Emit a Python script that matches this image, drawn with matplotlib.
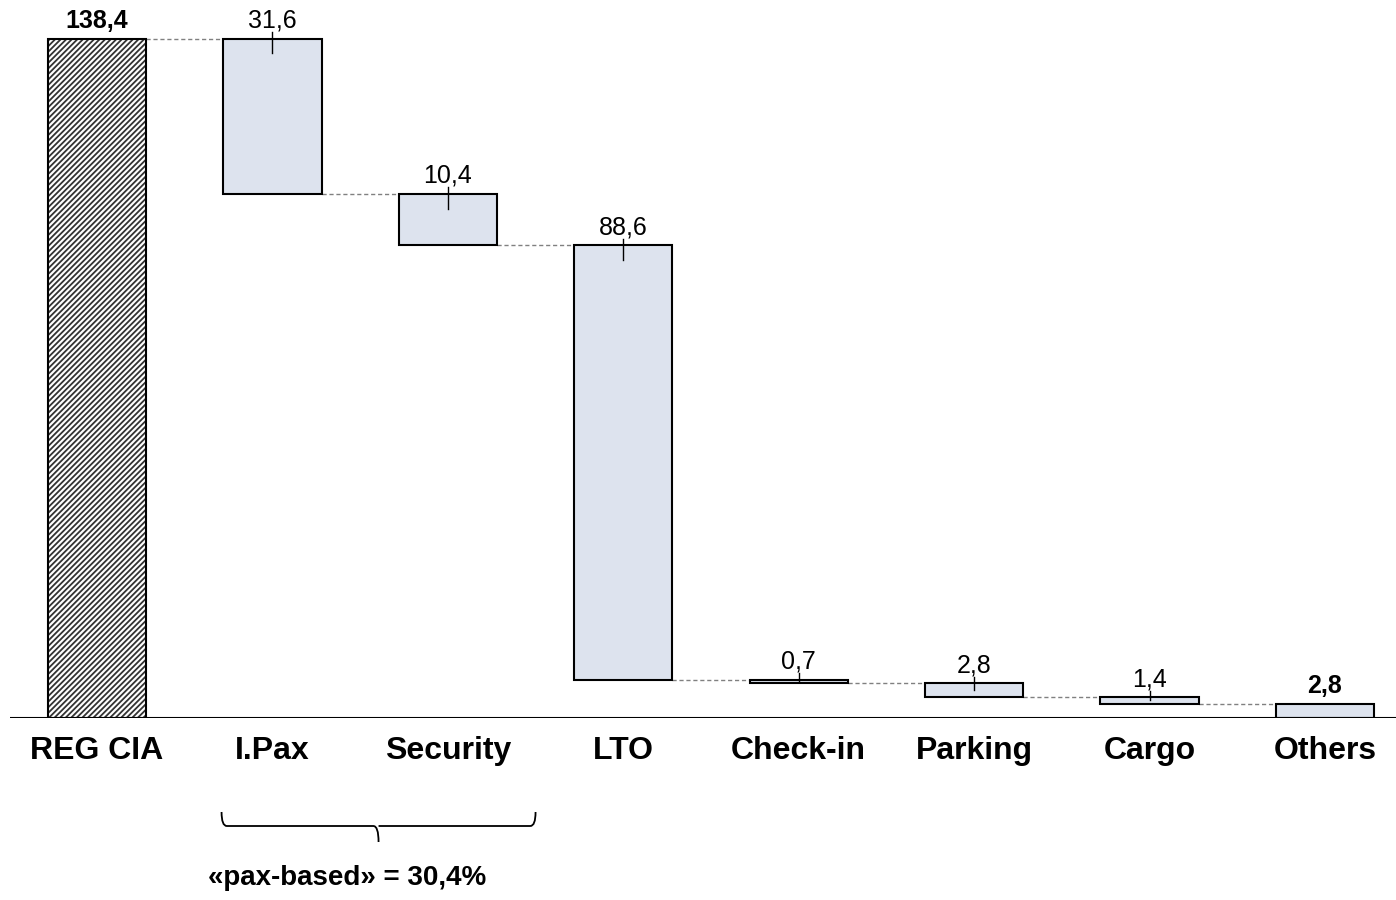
import numpy as np
import matplotlib.pyplot as plt
from matplotlib.path import Path
from matplotlib.patches import PathPatch
import matplotlib.transforms as mtransforms

plt.rcParams['font.family'] = ['Liberation Sans', 'DejaVu Sans']
plt.rcParams['hatch.linewidth'] = 1.3

categories = ['REG CIA', 'I.Pax', 'Security', 'LTO', 'Check-in', 'Parking', 'Cargo', 'Others']
values = [138.4, 31.6, 10.4, 88.6, 0.7, 2.8, 1.4, 2.8]
value_labels = ['138,4', '31,6', '10,4', '88,6', '0,7', '2,8', '1,4', '2,8']
brace_text = '«pax-based» = 30,4%'

fig = plt.figure(figsize=(13.96, 9), dpi=100)
ax = fig.add_axes([10 / 1396, 182 / 900, 1 - 10 / 1396, 718 / 900])
ax.set_xlim(-0.496, 7.405)
ax.set_ylim(0, 146.3)

width = 0.56
x = np.arange(len(categories))
fill = '#dde3ee'

# bottoms and tops of each bar
bottoms = []
tops = []
running = values[0]
for i, v in enumerate(values):
    if i == 0 or i == len(values) - 1:
        bottoms.append(0)
        tops.append(v)
    else:
        tops.append(running)
        running -= v
        bottoms.append(running)

heights = [t - b for t, b in zip(tops, bottoms)]

ax.bar(x[0], heights[0], width, bottom=bottoms[0], color='white', edgecolor='#333333',
       hatch='//////', linewidth=0, zorder=2)
ax.bar(x[0], heights[0], width, bottom=bottoms[0], fill=False, edgecolor='black',
       linewidth=1.5, zorder=3)
ax.bar(x[1:], heights[1:], width, bottom=bottoms[1:], color=fill, edgecolor='black',
       linewidth=1.5, zorder=2)

# connectors
for i in range(len(values) - 1):
    level = tops[0] if i == 0 else bottoms[i]
    ax.plot([x[i] + width / 2, x[i + 1] - width / 2], [level, level],
            color='#808080', linestyle=(0, (3, 2)), linewidth=1, zorder=1)

# value labels
for i, lab in enumerate(value_labels):
    if i == 0 or i == len(values) - 1:
        ax.text(x[i], tops[i] + 1.2, lab, ha='center', va='bottom', fontsize=18,
                fontweight='bold')
    else:
        ax.text(x[i], tops[i] + 1.2, lab, ha='center', va='bottom', fontsize=18)
        down = min(3.0, heights[i] / 2)
        ax.plot([x[i], x[i]], [tops[i] + 1.3, tops[i] - down], color='black',
                linewidth=1, zorder=4)

ax.axhline(0, color='black', linewidth=1.5, zorder=5)
for s in ax.spines.values():
    s.set_visible(False)
ax.set_xticks([])
ax.set_yticks([])

# category labels
trans = mtransforms.blended_transform_factory(ax.transData, fig.transFigure)
for i, c in enumerate(categories):
    ax.text(x[i], 1 - 751 / 900, c, transform=trans, ha='center', va='center',
            fontsize=23, fontweight='bold')

# brace under I.Pax and Security
xl = 0.71
xr = 2.5
xm = (xl + xr) / 2
y_top = 1 - 812 / 900
y_mid = 1 - 826 / 900
y_tip = 1 - 842 / 900
dx = 0.03
verts = [(xl, y_top), (xl, y_mid), (xl + dx, y_mid),
         (xm - dx, y_mid), (xm, y_mid), (xm, y_tip),
         (xm, y_mid), (xm + dx, y_mid),
         (xr - dx, y_mid), (xr, y_mid), (xr, y_top)]
codes = [Path.MOVETO, Path.CURVE3, Path.CURVE3,
         Path.LINETO, Path.CURVE3, Path.CURVE3,
         Path.MOVETO, Path.LINETO,
         Path.LINETO, Path.CURVE3, Path.CURVE3]
brace = PathPatch(Path(verts, codes), transform=trans, fill=False, edgecolor='black',
                  linewidth=1.3, clip_on=False)
ax.add_patch(brace)

ax.text(1.425, 1 - 878 / 900, brace_text, transform=trans, ha='center', va='center',
        fontsize=20, fontweight='bold')

fig.savefig('out.png', dpi=100)
